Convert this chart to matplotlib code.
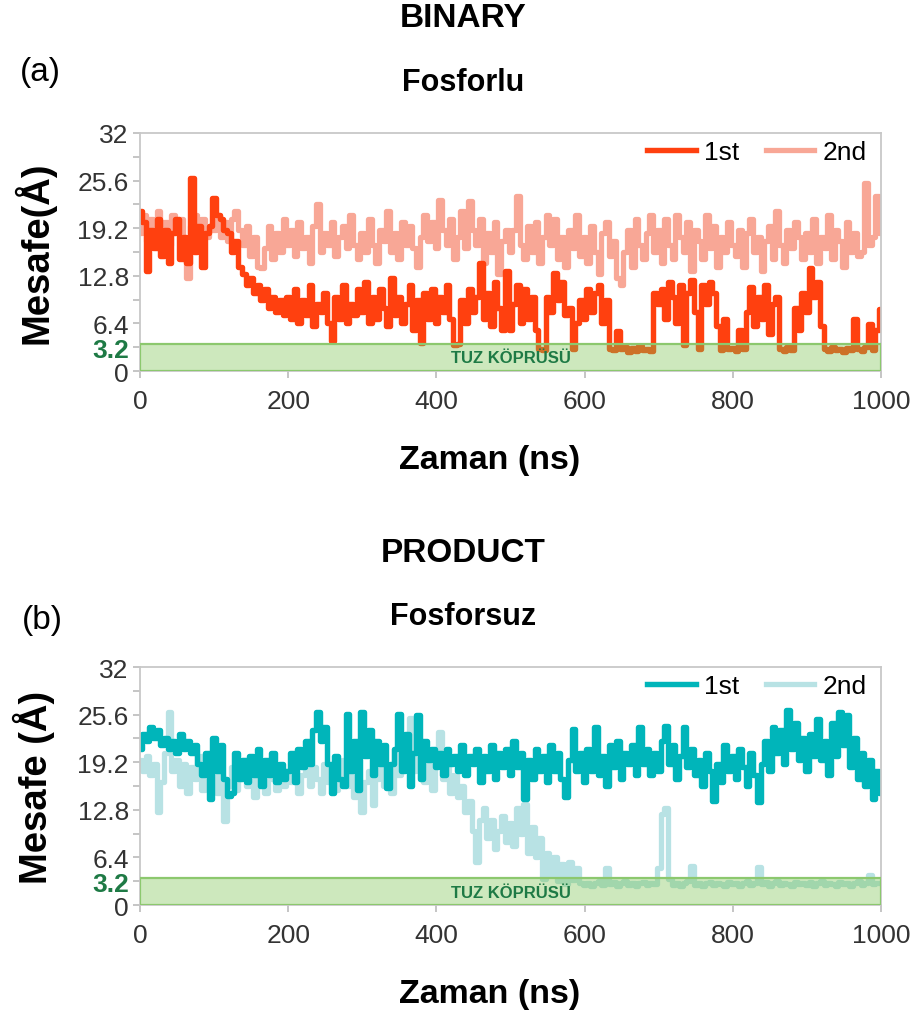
import numpy as np
import matplotlib.pyplot as plt
from matplotlib.patches import Rectangle

plt.rcParams['font.family'] = ['Liberation Sans', 'DejaVu Sans']

# zaman ekseni (ns), 5 ns aralik
zaman = np.arange(0, 1001, 5)

# BINARY - Fosforlu
binary_1st = [
    21.5, 20, 13.5, 19, 16.5, 20.5, 15.5, 19, 14.5, 18.5, 20.5, 15, 18, 14.5, 26, 16, 19.5, 14, 18.5, 19.5,
    23.3, 21, 20.5, 19, 18.5, 16, 17.5, 14, 13, 11.5, 12.5, 10.5, 11.5, 9.5, 11, 8.5, 10, 8, 9.5, 7.5,
    10, 7, 11, 6.5, 9.5, 7.5, 11.5, 6, 9, 8, 10.5, 6.5, 4, 10, 7, 11.5, 6.5, 9, 7.5, 11,
    8, 12, 6.5, 10, 7, 11, 8.5, 6, 12.5, 7.5, 10, 6.5, 9, 11.5, 5.5, 9.5, 3.8, 10.5, 7, 11,
    6.5, 10, 8, 11.5, 7, 3.5, 3.6, 9.5, 6.5, 11, 8, 10, 14.5, 7, 10.5, 6, 12, 8.5, 5.5, 13.5,
    5.5, 9, 11.5, 6.5, 11, 7, 10, 5.5, 3, 2.8, 10, 8, 13.2, 9.5, 12, 7.5, 8.5, 3, 6.5, 9.5,
    7, 11, 8, 10.5, 11.5, 6.5, 9.5, 3, 2.8, 5.4, 2.9, 3.2, 2.6, 3.1, 2.7, 3.3, 2.8, 3, 2.7, 10.5,
    9, 11, 7, 12, 10, 6.5, 11.5, 3.5, 10.5, 12.2, 8, 3, 11.5, 9, 12, 10.5, 6, 2.8, 7, 2.9,
    3.1, 2.7, 5.5, 2.9, 8, 11.3, 6, 10, 7, 11.5, 5, 9, 10, 3, 2.7, 3.2, 2.8, 8.5, 5.5, 10.5,
    8, 13.8, 10, 12, 6, 3, 2.7, 3.2, 2.8, 3, 2.6, 3.1, 2.8, 7, 3, 2.7, 3.2, 6.3, 2.8, 5.5,
    8.3]
binary_2nd = [
    18.5, 21, 17.5, 20.5, 19, 21.5, 18, 20, 17, 21, 18.5, 20.5, 17.5, 12.5, 19.5, 21, 17, 20.5, 18, 19.5,
    19, 21, 18, 20, 17.5, 20.5, 21.5, 19, 17, 19.5, 15.5, 18, 14, 13.8, 16.5, 19.5, 15, 18.5, 16, 20.5,
    17, 19, 15.5, 20, 16.5, 18, 14.5, 19.5, 22.5, 16, 18.5, 17, 20, 15.5, 18, 19.5, 16.5, 21, 17, 15,
    18.5, 16, 20.5, 17, 14.5, 19, 17.5, 21.5, 16, 18.5, 15, 20, 17, 19.5, 16.5, 14, 18, 21, 17.5, 20,
    16.5, 23, 19, 17, 20.5, 15, 18, 21.5, 16.5, 22.8, 19, 17, 20.5, 14.5, 18.5, 16, 20, 13, 17.5, 19,
    16, 19, 23.5, 17, 15, 19.5, 16, 20, 14.5, 18, 21, 17, 20.5, 15, 18, 14, 19, 16.5, 21, 15.5,
    18, 14.5, 19.5, 16, 13, 18.5, 20, 15.5, 17.5, 12.5, 11.5, 16, 19, 14, 20.5, 17, 15, 18.5, 21, 16,
    19, 14.5, 20.5, 17, 15, 21, 18, 16, 20, 13.5, 19, 17.5, 15, 21, 16.5, 19.5, 14, 18, 16, 20,
    17, 15.5, 19, 14, 18.5, 20.5, 16, 18, 13.5, 17.5, 19.5, 15, 21.5, 17, 14.5, 19, 16.5, 20, 18, 15,
    18.5, 16, 20.5, 14.5, 18, 16.5, 21, 15, 19, 17.5, 14, 20, 16, 18.5, 15.5, 16, 25.3, 17, 18, 23.5,
    18.5]

# PRODUCT - Fosforsuz
product_1st = [
    21, 23, 22, 24, 22.5, 23.5, 21.5, 22.5, 21, 22, 20.5, 23, 21, 22, 20.5, 21.5, 19, 17.5, 20.5, 14.3,
    22.5, 18, 21.5, 17, 14.6, 15, 20.5, 17, 19.5, 16.5, 20, 17.5, 21, 16, 19.5, 17.5, 20.5, 16.5, 19, 17,
    18, 20.5, 16.5, 21, 18.5, 22, 19, 23.5, 25.9, 22, 24, 19, 15, 20, 17, 16, 25.7, 18, 22, 15.5,
    25.9, 20, 23.5, 17.5, 22, 19, 21.5, 15.8, 19, 21, 25.7, 18, 23, 16, 20.5, 25.5, 17, 22, 19.5, 21,
    18.5, 20.5, 17.5, 21, 19, 20, 18, 21.5, 17.5, 20, 19, 21, 16.5, 20, 18, 21.5, 17, 20.5, 18.5, 21,
    17.5, 22, 18.5, 20.5, 14.2, 19.5, 17, 21, 18, 20, 16.5, 21.5, 18, 20.5, 17, 14.5, 19.5, 23.7, 18, 20.5,
    16.5, 21, 18, 23.9, 17.5, 20, 16, 21.5, 18.5, 22, 17, 20.5, 19, 21.5, 17.5, 23.9, 19, 21, 17.5, 20.5,
    18, 22, 24.1, 19, 21.5, 17, 20, 23.9, 18.5, 21, 17.5, 19.5, 16, 20.5, 18, 14, 19, 16.5, 21.5, 18,
    20, 17, 21, 18.5, 16, 20.5, 17.5, 13.8, 19, 22, 18, 24, 20.5, 23.5, 19, 26.2, 21, 24.5, 19.5, 22.5,
    18, 23, 20, 25, 19.5, 22, 17.5, 24.5, 20, 26, 21.5, 25.5, 18.5, 22.5, 17, 20.5, 16, 19.5, 14.2, 18,
    15]
product_2nd = [
    19.5, 18, 20, 17.5, 19, 12.5, 16.5, 20.5, 25.9, 18, 19.5, 16, 19, 15, 18.5, 17, 20, 15.5, 19, 16.5,
    18, 15, 17.5, 11.3, 16, 18.5, 15.5, 17, 19.5, 16, 18, 14.5, 17.5, 19, 15, 17, 18.5, 15.5, 17, 16,
    18, 16.5, 19, 15, 17.5, 20, 16, 18.5, 17, 15, 19, 16.5, 18, 15.5, 17.5, 19.5, 16, 18, 14.5, 17,
    12.5, 16.5, 18, 13.5, 17, 19.5, 16, 18.5, 15, 21, 17.5, 19, 22, 25.2, 18, 20.5, 17, 16.5, 19, 15.5,
    20, 23.2, 17, 19, 15, 17.5, 14.5, 16, 12.5, 14, 10, 5.8, 11.5, 13, 9, 11.5, 7.5, 10, 12, 8.5,
    11, 8, 13, 9.5, 13.6, 7, 10.5, 6.5, 9, 3.5, 7, 4, 6.5, 3.2, 5.5, 2.8, 5.8, 3.3, 5, 3,
    2.7, 3, 2.6, 2.9, 3.2, 2.7, 5, 2.8, 3.1, 2.6, 2.9, 3.2, 2.7, 3, 2.6, 2.9, 3.1, 2.7, 3, 2.8,
    5, 12.2, 13, 3.5, 2.7, 3, 2.6, 2.9, 3.2, 5.3, 2.7, 3, 2.6, 2.9, 3.1, 2.7, 3, 2.8, 2.6, 3.1,
    2.8, 3, 2.6, 2.9, 3.2, 2.7, 3, 5.1, 2.8, 3.1, 2.6, 2.9, 3.2, 2.7, 3, 2.8, 2.6, 3.1, 2.8, 3,
    2.7, 3.1, 2.6, 2.9, 3.2, 2.7, 3, 2.8, 2.6, 3.1, 2.8, 3, 2.6, 2.9, 3.2, 2.7, 3, 4, 2.8, 3,
    2.9]

y_ticks = [0, 3.2, 6.4, 9.6, 12.8, 16, 19.2, 22.4, 25.6, 28.8, 32]
y_labels = ['0', '3.2', '6.4', '', '12.8', '', '19.2', '', '25.6', '', '32']
x_ticks = [0, 200, 400, 600, 800, 1000]
kopru_ust = 3.6  # tuz koprusu bolgesi ust siniri


def ciz(ax, s1, s2, c1, c2, ylabel):
    ax.plot(zaman, s2, color=c2, lw=3.8, label='2nd', zorder=2, drawstyle='steps-mid')
    ax.plot(zaman, s1, color=c1, lw=3.9, label='1st', zorder=2.5, drawstyle='steps-mid')
    ax.add_patch(Rectangle((0, 0), 1000, kopru_ust, facecolor='#7cc353', alpha=0.38,
                           edgecolor='none', zorder=3))
    ax.add_patch(Rectangle((0, 0), 1000, kopru_ust, facecolor='none',
                           edgecolor='#8cc86e', lw=1.6, zorder=3.1))
    ax.text(500, 1.75, 'TUZ KÖPRÜSÜ', color='#1e7a45', fontsize=12, fontweight='bold',
            ha='center', va='center', zorder=4)
    ax.set_xlim(0, 1000)
    ax.set_ylim(0, 32)
    ax.set_xticks(x_ticks)
    ax.set_yticks(y_ticks)
    ax.set_yticklabels(y_labels)
    for s in ax.spines.values():
        s.set_color('#c8c8c8')
        s.set_linewidth(1.3)
    ax.tick_params(axis='both', direction='out', length=5, width=1.2, color='#bbbbbb',
                   labelsize=19, labelcolor='#333333', pad=3)
    ax.tick_params(axis='x', pad=8)
    # 3.2 etiketi yesil ve kalin
    lbl = ax.get_yticklabels()[1]
    lbl.set_color('#1e7a45')
    lbl.set_fontweight('bold')
    ax.set_xlabel('Zaman (ns)', fontsize=24.5, fontweight='bold')
    ax.xaxis.set_label_coords(0.472, -0.305)
    ax.set_ylabel(ylabel, fontsize=27.5, fontweight='bold', labelpad=16)
    h, l = ax.get_legend_handles_labels()
    ax.legend(h[::-1], l[::-1], loc='upper right', ncol=2, frameon=False, fontsize=19,
              handlelength=1.85, handletextpad=0.3, columnspacing=1.0,
              borderaxespad=0.15, bbox_to_anchor=(1.0, 1.03))


fig = plt.figure(figsize=(9.13, 10.12), dpi=100)

ax1 = fig.add_axes([0.1533, 0.6324, 0.8116, 0.2352])
ciz(ax1, binary_1st, binary_2nd, '#ff400f', '#f8a796', 'Mesafe(Å)')

ax2 = fig.add_axes([0.1533, 0.1047, 0.8116, 0.2352])
ciz(ax2, product_1st, product_2nd, '#00b5ba', '#b8e2e4', 'Mesafe (Å)')

fig.text(0.507, 0.982, 'BINARY', fontsize=24, fontweight='bold', ha='center', va='center')
fig.text(0.507, 0.918, 'Fosforlu', fontsize=22, fontweight='bold', ha='center', va='center')
fig.text(0.044, 0.928, '(a)', fontsize=24, ha='center', va='center')

fig.text(0.507, 0.453, 'PRODUCT', fontsize=24, fontweight='bold', ha='center', va='center')
fig.text(0.507, 0.390, 'Fosforsuz', fontsize=22, fontweight='bold', ha='center', va='center')
fig.text(0.046, 0.387, '(b)', fontsize=24, ha='center', va='center')

fig.savefig('out.png', dpi=100)
